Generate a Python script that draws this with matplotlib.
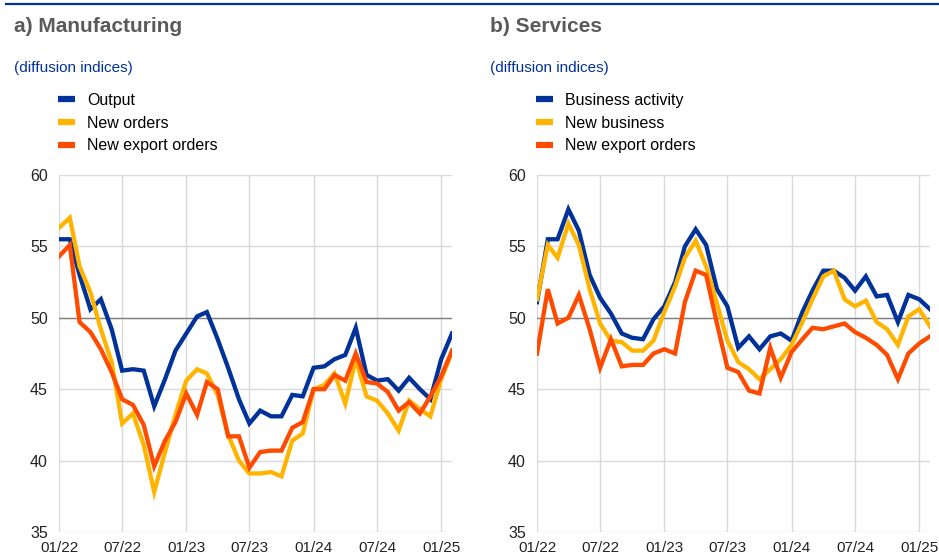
import pandas as pd
import matplotlib.pyplot as plt
from matplotlib.lines import Line2D

plt.rcParams["font.family"] = ["Liberation Sans", "DejaVu Sans"]

# Monthly PMI diffusion indices, 01/2022 - 02/2025
months = pd.date_range("2022-01-01", periods=38, freq="MS")

# a) Manufacturing
mfg_output = [55.5, 55.5, 53.0, 50.6, 51.3, 49.2, 46.3, 46.4, 46.3, 43.8,
              45.7, 47.7, 48.9, 50.1, 50.4, 48.5, 46.5, 44.3, 42.6, 43.5,
              43.1, 43.1, 44.6, 44.5, 46.5, 46.6, 47.1, 47.4, 49.3, 46.0,
              45.6, 45.7, 44.9, 45.8, 45.0, 44.3, 47.1, 48.9]
mfg_new_orders = [56.3, 57.0, 53.6, 51.8, 49.2, 46.9, 42.6, 43.3, 41.1, 37.8,
                  40.6, 43.2, 45.6, 46.4, 46.1, 44.6, 41.8, 40.0, 39.1, 39.1,
                  39.2, 38.9, 41.4, 41.9, 45.0, 45.3, 46.1, 44.0, 47.1, 44.5,
                  44.2, 43.3, 42.1, 44.2, 43.6, 43.1, 45.7, 47.6]
mfg_export = [54.3, 55.1, 49.7, 49.0, 47.8, 46.2, 44.3, 43.9, 42.5, 39.6,
              41.4, 42.7, 44.7, 43.2, 45.5, 45.0, 41.7, 41.7, 39.5, 40.6,
              40.7, 40.7, 42.3, 42.7, 45.0, 45.0, 46.0, 45.6, 47.5, 45.5,
              45.4, 44.8, 43.5, 44.1, 43.3, 44.5, 45.9, 47.7]

# b) Services
srv_activity = [51.1, 55.5, 55.5, 57.6, 56.1, 53.0, 51.4, 50.3, 48.9, 48.6,
                48.5, 49.9, 50.8, 52.5, 55.0, 56.2, 55.1, 52.0, 50.8, 47.9,
                48.7, 47.8, 48.7, 48.9, 48.4, 50.4, 51.9, 53.3, 53.3, 52.8,
                51.9, 52.9, 51.5, 51.6, 49.7, 51.6, 51.3, 50.6]
srv_new_business = [51.3, 55.1, 54.2, 56.6, 55.1, 52.0, 49.6, 48.4, 48.3, 47.7,
                    47.7, 48.4, 50.4, 52.2, 54.2, 55.4, 53.6, 51.0, 48.4, 46.9,
                    46.4, 45.7, 46.4, 47.1, 48.1, 49.7, 51.3, 52.9, 53.3, 51.3,
                    50.8, 51.2, 49.7, 49.2, 48.1, 50.1, 50.6, 49.4]
srv_export = [47.5, 52.0, 49.6, 50.0, 51.6, 49.2, 46.5, 48.5, 46.6, 46.7,
              46.7, 47.5, 47.8, 47.5, 51.1, 53.3, 53.0, 49.6, 46.5, 46.2,
              44.9, 44.7, 47.9, 45.8, 47.6, 48.5, 49.3, 49.2, 49.4, 49.6,
              49.0, 48.6, 48.1, 47.4, 45.7, 47.5, 48.2, 48.7]

tick_labels = ["01/22", "07/22", "01/23", "07/23", "01/24", "07/24", "01/25"]
tick_dates = pd.to_datetime(["2022-01-01", "2022-07-01", "2023-01-01", "2023-07-01",
                             "2024-01-01", "2024-07-01", "2025-01-01"])

BLUE = "#003299"
YELLOW = "#ffb400"
RED = "#ff4b00"
GREY_TITLE = "#5a5a5a"

W, H = 939, 558
fig = plt.figure(figsize=(W / 100, H / 100), dpi=100)

# dark blue rule across the top
fig.add_artist(Line2D([6 / W, 1], [1 - 4 / H, 1 - 4 / H], color=BLUE, lw=1.6,
                      transform=fig.transFigure))

panels = [
    (59, 14, "a) Manufacturing",
     [(mfg_output, "Output", BLUE), (mfg_new_orders, "New orders", YELLOW),
      (mfg_export, "New export orders", RED)]),
    (537, 490, "b) Services",
     [(srv_activity, "Business activity", BLUE), (srv_new_business, "New business", YELLOW),
      (srv_export, "New export orders", RED)]),
]

for ax_left, text_left, title, series in panels:
    ax = fig.add_axes([ax_left / W, (H - 532) / H, 393 / W, 357 / H])
    ax.set_xlim(months[0], months[-1])
    ax.set_ylim(35, 60)
    ax.set_yticks([35, 40, 45, 50, 55, 60])
    ax.set_xticks(tick_dates)
    ax.set_xticklabels(tick_labels)
    ax.grid(True, color="#d9d9d9", lw=1)
    ax.axhline(50, color="#7f7f7f", lw=1, zorder=2)
    for s in ax.spines.values():
        s.set_visible(False)
    ax.tick_params(length=0, colors="#222222")
    ax.tick_params(axis="y", pad=8, labelsize=11.5)
    ax.tick_params(axis="x", pad=6.5, labelsize=11)

    handles = []
    for vals, label, color in series:
        ax.plot(months, vals, color=color, lw=3.1, zorder=3, solid_joinstyle="miter")
        handles.append(Line2D([], [], color=color, lw=4.5, solid_capstyle="butt"))

    fig.text(text_left / W, 1 - 27 / H, title, fontsize=15, fontweight="bold",
             color=GREY_TITLE, va="center", ha="left")
    fig.text(text_left / W, 1 - 68 / H, "(diffusion indices)", fontsize=11,
             color=BLUE, va="center", ha="left")
    fig.legend(handles, [s[1] for s in series], loc="upper left",
               bbox_to_anchor=((ax_left - 1) / W, 1 - 93 / H), frameon=False,
               fontsize=11.5, handlelength=1.05, handletextpad=0.75,
               labelspacing=0.48, borderaxespad=0, borderpad=0)

fig.savefig("out.png", dpi=100)
